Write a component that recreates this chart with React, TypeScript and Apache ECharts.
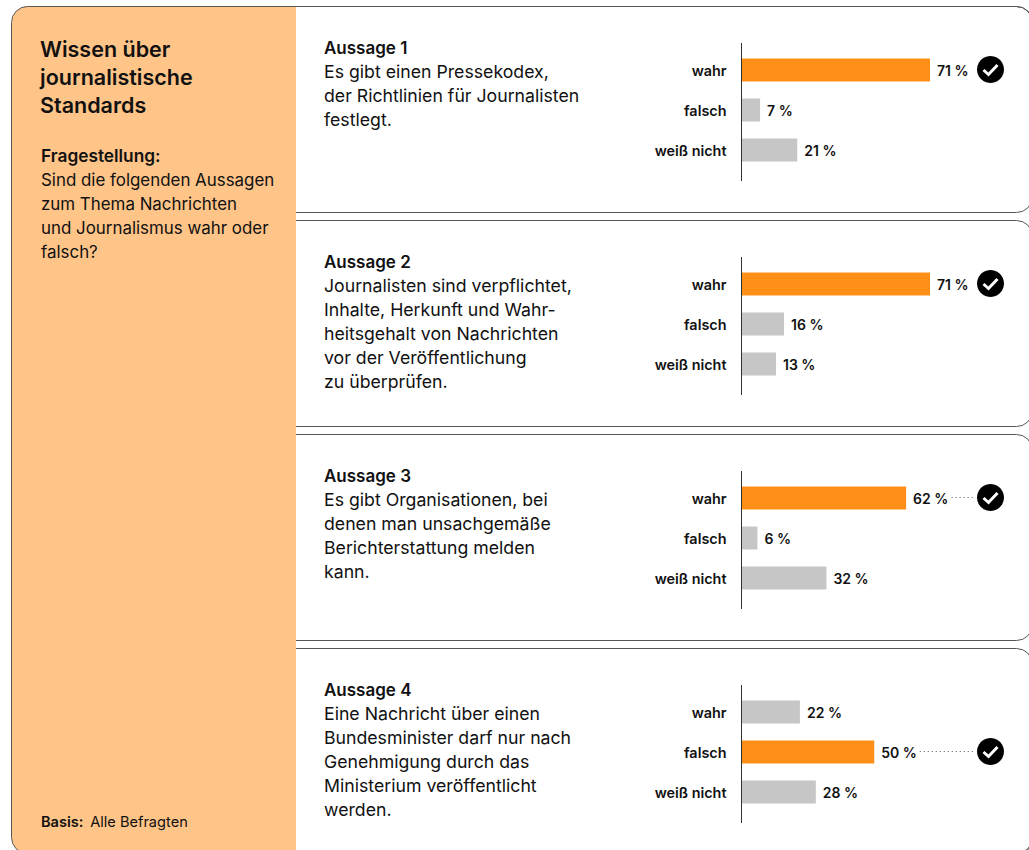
import React, { useEffect, useRef } from "react";
import * as echarts from "echarts";

const categories = ["wahr", "falsch", "weiß nicht"];
const valuesA1 = [71, 7, 21];
const valuesA2 = [71, 16, 13];
const valuesA3 = [62, 6, 32];
const valuesA4 = [22, 50, 28];
const allValues = [valuesA1, valuesA2, valuesA3, valuesA4];
const correctIndex = [0, 0, 0, 1];
const headings = ["Aussage 1", "Aussage 2", "Aussage 3", "Aussage 4"];
const statements = [
  "Es gibt einen Pressekodex,\nder Richtlinien für Journalisten\nfestlegt.",
  "Journalisten sind verpflichtet,\nInhalte, Herkunft und Wahr-\nheitsgehalt von Nachrichten\nvor der Veröffentlichung\nzu überprüfen.",
  "Es gibt Organisationen, bei\ndenen man unsachgemäße\nBerichterstattung melden\nkann.",
  "Eine Nachricht über einen\nBundesminister darf nur nach\nGenehmigung durch das\nMinisterium veröffentlicht\nwerden.",
];
const panelTitle = "Wissen über\njournalistische\nStandards";
const questionLabel = "Fragestellung:";
const questionText = "Sind die folgenden Aussagen\nzum Thema Nachrichten\nund Journalismus wahr oder\nfalsch?";
const basisLabel = "Basis:";
const basisText = "Alle Befragten";

const FONT = "Inter, 'Liberation Sans', sans-serif";
const INK = "#111111";
const LINE = "#555555";
const ORANGE = "#FF8F17";
const GREY = "#C6C6C6";
const PEACH = "#FFC488";
const STEP = 214;
const GRID_LEFT = 741.5;
const GRID_WIDTH = 265.5;

function buildOption() {
  const grids: any[] = [];
  const xAxes: any[] = [];
  const yAxes: any[] = [];
  const series: any[] = [];
  const graphics: any[] = [];

  // cards
  for (let i = 0; i < 4; i++) {
    graphics.push({
      type: "rect",
      z: 1,
      silent: true,
      shape: { x: 270.5, y: 6.5 + STEP * i, width: 762, height: 206, r: 16 },
      style: { fill: "#ffffff", stroke: LINE, lineWidth: 1 },
    });
  }
  // left panel
  graphics.push({
    type: "rect",
    z: 2,
    silent: true,
    shape: { x: 12, y: 6, width: 284, height: 848, r: [16, 0, 0, 16] },
    style: { fill: PEACH },
  });
  graphics.push({
    type: "rect",
    z: 3,
    silent: true,
    shape: { x: 11.5, y: 6.5, width: 1021, height: 847, r: 16 },
    style: { fill: "none", stroke: LINE, lineWidth: 1 },
  });

  const text = (x: number, y: number, t: string, size: number, weight: number, lh: number) => ({
    type: "text",
    z: 5,
    silent: true,
    x,
    y,
    style: { text: t, fill: INK, fontFamily: FONT, fontSize: size, fontWeight: weight, lineHeight: lh, textVerticalAlign: "top" },
  });
  graphics.push(text(40, 35, panelTitle, 21.5, 600, 28));
  graphics.push(text(41, 143.5, questionLabel, 17.3, 600, 24));
  graphics.push(text(41, 168, questionText, 16.9, 400, 24));
  graphics.push({
    type: "text",
    z: 5,
    silent: true,
    x: 41,
    y: 814,
    style: {
      text: `{b|${basisLabel}}  {r|${basisText}}`,
      rich: {
        b: { fontFamily: FONT, fontSize: 14.6, fontWeight: 600, fill: INK },
        r: { fontFamily: FONT, fontSize: 14.6, fontWeight: 400, fill: INK },
      },
    },
  });

  allValues.forEach((vals, i) => {
    const dy = STEP * i;
    grids.push({ left: GRID_LEFT, top: 50 + dy, width: GRID_WIDTH, height: 120 });
    xAxes.push({ type: "value", gridIndex: i, min: 0, max: 100, show: false });
    yAxes.push({
      type: "category",
      gridIndex: i,
      inverse: true,
      z: 6,
      data: categories,
      axisLine: { show: false },
      axisTick: { show: false },
      axisLabel: { margin: 15, color: INK, fontFamily: FONT, fontSize: 14.4, fontWeight: 600, padding: [0, 0, 3, 0] },
    });
    series.push({
      type: "bar",
      xAxisIndex: i,
      yAxisIndex: i,
      barWidth: 23,
      z: 4,
      data: vals.map((v, k) => ({ value: v, itemStyle: { color: k === correctIndex[i] ? ORANGE : GREY } })),
      label: {
        show: true,
        position: "right",
        distance: 7,
        formatter: "{c} %",
        color: INK,
        fontFamily: FONT,
        fontSize: 14,
        fontWeight: 600,
      },
    });

    // vertical axis rule
    graphics.push({
      type: "line",
      z: 6,
      silent: true,
      shape: { x1: 741.5, y1: 43 + dy, x2: 741.5, y2: 181 + dy },
      style: { stroke: "#333333", lineWidth: 1 },
    });

    graphics.push(text(324, 36 + dy, headings[i], 17, 600, 24));
    graphics.push(text(324, 59.5 + dy, statements[i], 17.7, 400, 24));

    // tick mark for the correct answer
    const cy = 70 + 40 * correctIndex[i] + dy - 0.5;
    const cx = 990.5;
    graphics.push({ type: "circle", z: 6, silent: true, shape: { cx, cy, r: 13.5 }, style: { fill: "#000000" } });
    graphics.push({
      type: "polyline",
      z: 7,
      silent: true,
      shape: { points: [[cx - 7, cy + 0.5], [cx - 2, cy + 5], [cx + 7, cy - 4.5]] },
      style: { stroke: "#ffffff", lineWidth: 3, fill: "none" },
    });
    const start = GRID_LEFT + (vals[correctIndex[i]] * GRID_WIDTH) / 100 + 45.5;
    if (start < 965) {
      graphics.push({
        type: "line",
        z: 6,
        silent: true,
        shape: { x1: start, y1: cy, x2: 973, y2: cy },
        style: { stroke: "#555555", lineWidth: 1, lineDash: [1, 3] },
      });
    }
  });

  return {
    animation: false,
    backgroundColor: "#ffffff",
    grid: grids,
    xAxis: xAxes,
    yAxis: yAxes,
    series,
    graphic: { elements: graphics },
  };
}

export default function App() {
  const ref = useRef<HTMLDivElement>(null);
  useEffect(() => {
    document.body.style.margin = "0";
    document.body.style.overflow = "hidden";
    const chart = echarts.init(ref.current!, undefined, { renderer: "svg" });
    chart.setOption(buildOption() as any);
    return () => chart.dispose();
  }, []);
  return <div ref={ref} style={{ width: 1029, height: 850 }} />;
}
